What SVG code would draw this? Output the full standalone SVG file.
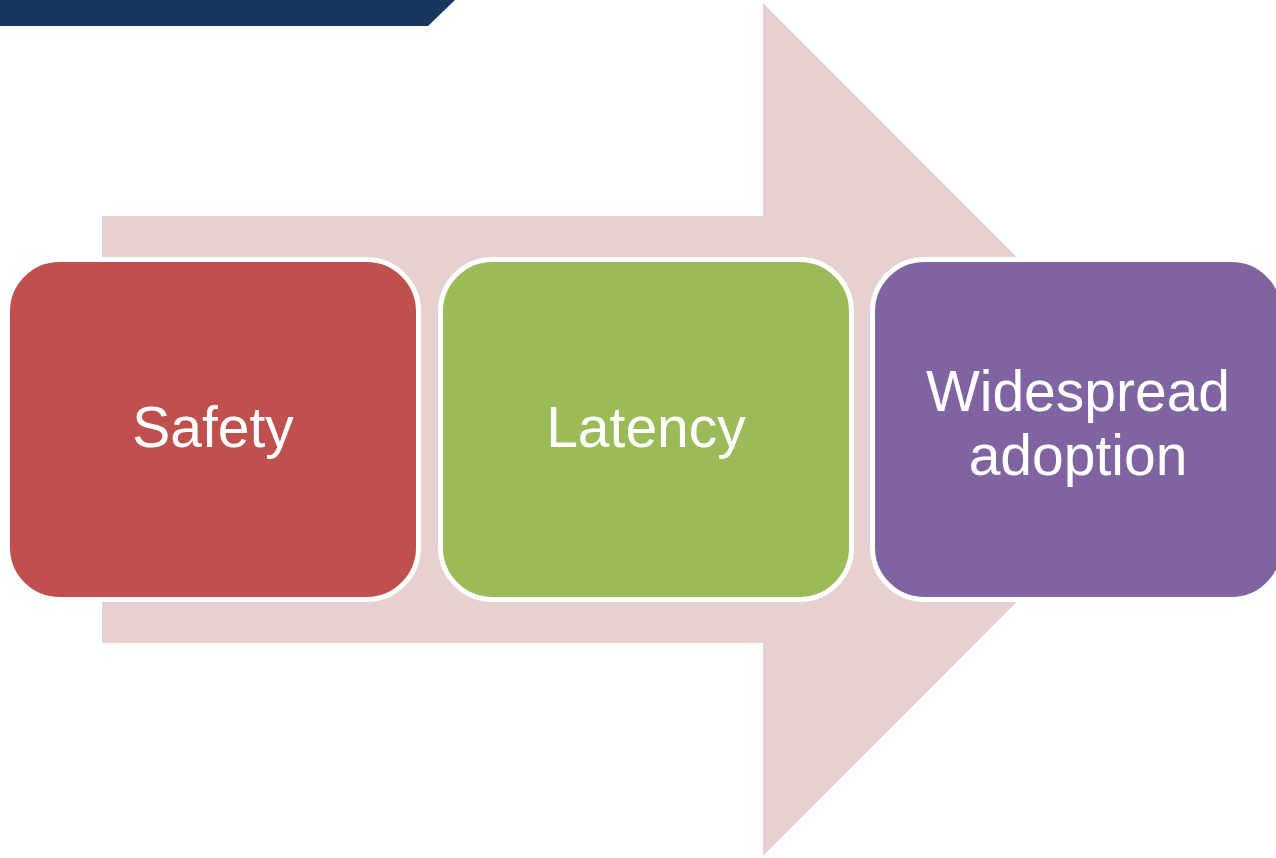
<svg xmlns="http://www.w3.org/2000/svg" width="1276" height="858" viewBox="0 0 1276 858">
  <style>
    .box { stroke: #FFFFFF; stroke-width: 5; }
    .lbl { font-family: "Liberation Sans", Arial, sans-serif; font-size: 57px; fill: #FFFFFF; text-anchor: middle; }
  </style>
  <rect x="0" y="0" width="1276" height="858" fill="#FFFFFF"/>
  <polygon id="topbar" points="0,0 455,0 428,26 0,26" fill="#17375E"/>
  <g id="connectors">
    <polygon id="big-arrow" points="102,216 763,216 763,3 1189,429.5 763,856 763,643 102,643" fill="#E7D0D0"/>
  </g>
  <g id="node-safety">
    <rect class="box" x="7.5" y="259.5" width="411" height="340" rx="52" ry="52" fill="#C0504D"/>
    <text class="lbl" x="213" y="447">Safety</text>
  </g>
  <g id="node-latency">
    <rect class="box" x="440.5" y="259.5" width="411" height="340" rx="52" ry="52" fill="#9BBB59"/>
    <text class="lbl" x="646" y="447">Latency</text>
  </g>
  <g id="node-adoption">
    <rect class="box" x="872.5" y="259.5" width="411" height="340" rx="52" ry="52" fill="#8064A2"/>
    <text class="lbl" x="1078" y="411">Widespread</text>
    <text class="lbl" x="1078" y="475">adoption</text>
  </g>
</svg>
